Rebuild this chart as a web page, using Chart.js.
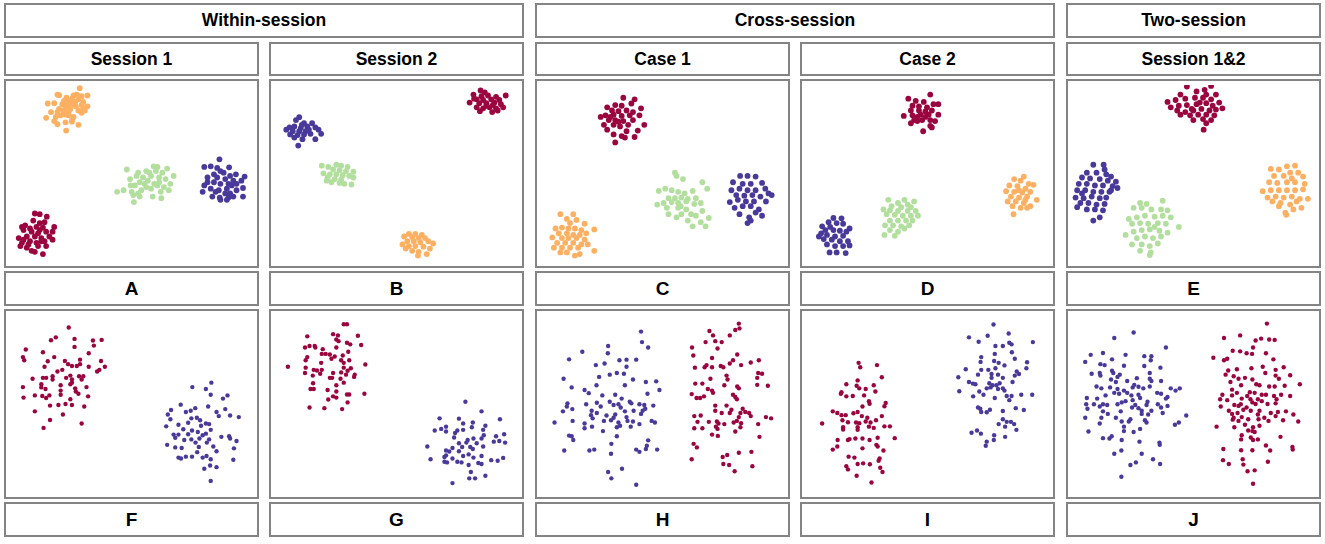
<!DOCTYPE html>
<html>
<head>
<meta charset="utf-8">
<script src="https://cdn.jsdelivr.net/npm/chart.js@4.4.0/dist/chart.umd.min.js"></script>
<style>
    body { margin: 0; background: #fff; width: 1325px; height: 544px; position: relative; overflow: hidden;
           font-family: "Liberation Sans", Arial, sans-serif; }
    .box { position: absolute; box-sizing: border-box; border: 2px solid #848484; background: #fff;
           display: flex; align-items: center; justify-content: center;
           font-weight: bold; font-size: 17.5px; color: #000; }
    .box canvas { position: absolute; left: 0; top: 0; }
</style>
</head>
<body>
<script>
// Titles
const groupTitles = ['Within-session', 'Cross-session', 'Two-session'];
const panelTitles = ['Session 1', 'Session 2', 'Case 1', 'Case 2', 'Session 1&2'];
const panelLetters = ['A', 'B', 'C', 'D', 'E', 'F', 'G', 'H', 'I', 'J'];

// Point clouds (x, y pairs, y grows downwards)
const aOrange = [234,25, 165,45, 170,47, 215,48, 225,45, 240,50, 258,48, 193,55, 210,58, 230,60, 185,65, 200,68, 220,68, 245,68, 135,73, 155,72, 180,75, 195,78, 210,75, 240,78, 258,82, 190,85, 170,90, 205,90, 230,95, 250,95, 145,100, 165,100, 185,102, 200,100, 240,102, 130,118, 160,115, 175,110, 190,108, 215,115, 155,128, 165,138, 190,132, 210,130, 230,140, 192,158, 210,125, 185,95, 222,82, 245,88, 200,110];
const aGreen = [463,270, 475,272, 505,277, 440,285, 470,285, 490,290, 525,300, 415,290, 380,280, 410,300, 430,305, 455,300, 480,305, 500,310, 390,310, 420,320, 445,315, 465,325, 515,325, 405,330, 440,335, 475,330, 495,335, 370,345, 350,350, 395,350, 425,345, 455,340, 485,350, 510,345, 400,360, 420,365, 460,365, 487,370, 402,382, 415,355, 435,325, 450,290, 480,320, 392,330];
const aPurple = [667,248, 640,270, 660,275, 697,273, 620,272, 670,285, 650,295, 680,290, 700,300, 718,295, 745,302, 630,305, 660,305, 685,310, 710,315, 735,315, 620,330, 650,320, 670,325, 695,325, 720,325, 640,340, 665,345, 690,340, 740,338, 615,350, 655,350, 700,355, 720,345, 645,365, 668,368, 695,368, 710,365, 740,365, 690,375, 670,375, 685,355, 705,330, 630,320];
const aRed = [95,418, 110,420, 132,428, 65,455, 90,440, 110,448, 125,445, 55,460, 80,465, 100,460, 120,462, 155,460, 60,470, 85,475, 105,480, 130,475, 150,475, 45,495, 70,490, 95,490, 115,495, 140,490, 55,510, 80,505, 100,510, 125,505, 150,500, 50,520, 70,525, 105,520, 130,520, 85,535, 95,538, 120,545, 60,500, 110,470, 75,515, 115,505];

const bRed = [652,32, 665,38, 630,45, 655,50, 675,48, 700,52, 730,48, 640,60, 660,62, 685,60, 710,62, 618,70, 648,72, 670,72, 695,70, 715,75, 640,85, 660,88, 680,85, 700,88, 722,85, 650,97, 688,100, 705,95, 670,80, 690,78, 632,58];
const bPurple = [90,116, 80,125, 105,135, 130,135, 60,148, 75,145, 95,150, 115,145, 140,148, 50,155, 70,160, 90,160, 110,160, 150,155, 62,170, 85,172, 105,170, 125,168, 158,168, 75,180, 100,185, 140,185, 87,205, 120,155, 98,140];
const bGreen = [160,268, 205,265, 220,268, 180,272, 240,272, 195,280, 215,282, 235,285, 258,287, 165,292, 185,295, 205,295, 225,298, 245,300, 178,305, 200,310, 220,312, 258,305, 190,320, 215,322, 230,325, 252,327, 175,315];
const bOrange = [430,482, 450,482, 470,485, 415,490, 440,492, 460,495, 480,495, 410,515, 425,505, 445,505, 465,508, 490,505, 505,512, 430,520, 450,520, 475,522, 440,535, 460,538, 485,545, 458,550, 420,528, 495,528];

const cRed = [270,55, 305,60, 295,73, 245,78, 265,80, 220,85, 325,88, 235,95, 255,97, 280,95, 300,100, 200,115, 215,110, 240,108, 265,112, 290,110, 320,110, 225,125, 245,125, 270,128, 300,125, 210,140, 240,140, 260,145, 285,140, 335,140, 220,155, 280,160, 315,158, 240,170, 265,175, 275,180, 305,178, 245,195, 255,130, 230,115];
const cGreen = [430,290, 435,300, 455,310, 515,320, 400,340, 420,345, 380,347, 440,350, 460,355, 485,347, 530,340, 410,370, 430,370, 450,368, 470,372, 495,370, 375,390, 395,385, 420,382, 440,385, 465,380, 490,388, 510,385, 405,400, 440,400, 465,405, 515,410, 410,420, 450,420, 480,420, 495,425, 535,432, 435,430, 470,440, 510,445, 485,458, 525,458, 448,395];
const cPurple = [632,300, 655,300, 680,302, 610,320, 640,325, 665,325, 700,322, 605,345, 630,340, 655,345, 680,345, 710,340, 620,360, 645,362, 670,360, 695,365, 720,355, 730,360, 600,382, 625,375, 650,380, 675,380, 712,380, 615,400, 640,395, 665,395, 690,405, 630,420, 680,415, 700,425, 660,430, 665,440, 655,448];
const cOrange = [75,420, 115,420, 95,435, 125,438, 105,448, 150,450, 60,465, 80,462, 100,465, 120,465, 140,470, 180,468, 70,480, 95,480, 115,485, 135,485, 155,480, 50,493, 80,495, 100,495, 125,495, 150,500, 65,510, 90,510, 115,510, 140,515, 160,515, 55,525, 80,525, 105,525, 130,525, 180,535, 95,540, 120,550, 135,545, 75,540];

const dRed = [400,45, 332,58, 355,65, 380,68, 410,75, 425,75, 345,80, 365,82, 390,85, 340,95, 365,95, 385,98, 405,95, 318,112, 345,110, 370,108, 395,108, 425,108, 350,125, 375,125, 400,125, 415,128, 340,135, 360,128, 400,143, 405,148, 378,160, 385,115, 360,115];
const dGreen = [270,375, 320,375, 300,385, 330,390, 350,380, 280,395, 310,398, 340,398, 255,405, 275,408, 300,410, 330,410, 355,410, 265,420, 290,422, 315,425, 340,425, 362,425, 275,440, 300,440, 325,440, 345,440, 260,455, 285,455, 310,458, 335,455, 275,470, 300,475, 258,485, 290,488, 320,465];
const dPurple = [100,432, 125,433, 85,445, 110,448, 130,450, 65,458, 90,460, 150,465, 75,470, 100,470, 120,472, 140,475, 55,490, 80,485, 105,490, 130,488, 70,498, 95,500, 120,505, 145,505, 80,515, 105,520, 130,520, 150,518, 88,540, 110,540, 138,542, 62,480];
const dOrange = [690,302, 660,310, 680,315, 705,325, 720,328, 645,330, 670,332, 695,340, 635,348, 660,350, 685,352, 710,350, 650,365, 675,368, 700,365, 730,375, 640,380, 665,380, 690,385, 710,395, 655,395, 680,400, 700,400, 658,420, 675,345, 695,375];

const eRed = [380,20, 455,18, 410,35, 435,30, 360,45, 440,45, 470,45, 320,68, 345,62, 375,58, 405,55, 430,55, 455,60, 480,70, 330,85, 355,80, 380,78, 410,75, 440,72, 460,80, 490,88, 350,95, 375,100, 400,95, 425,90, 450,95, 470,92, 360,108, 390,110, 415,108, 440,108, 465,110, 400,125, 430,122, 455,125, 440,135, 432,155, 395,90, 420,70];
const ePurple = [90,265, 122,265, 125,280, 70,290, 100,290, 130,295, 145,302, 55,305, 80,308, 110,310, 135,315, 160,318, 45,325, 70,325, 95,330, 120,330, 150,332, 165,338, 40,345, 65,345, 90,350, 115,350, 140,350, 35,368, 60,370, 85,365, 110,370, 130,368, 50,385, 75,385, 100,390, 125,388, 40,398, 70,405, 95,405, 120,408, 90,440, 110,430, 145,345, 55,355];
const eGreen = [235,385, 255,388, 305,378, 215,400, 240,400, 270,405, 300,405, 320,408, 200,435, 225,430, 250,425, 280,428, 305,425, 330,430, 210,450, 235,448, 260,450, 290,448, 315,450, 355,460, 190,485, 215,475, 240,470, 265,468, 295,472, 320,478, 225,495, 250,490, 275,495, 300,490, 210,515, 240,515, 265,520, 290,512, 235,535, 268,540, 265,548, 280,460];
const eOrange = [690,270, 715,268, 640,278, 665,280, 700,290, 725,290, 650,300, 680,300, 705,308, 740,302, 635,320, 660,322, 690,320, 715,320, 745,325, 615,348, 640,345, 665,345, 690,345, 715,345, 740,342, 630,368, 655,365, 680,368, 705,365, 730,372, 755,372, 645,380, 670,385, 700,390, 735,400, 665,395, 710,405, 688,422, 685,415, 720,380];

const fRed = [200,57, 160,88, 145,97, 218,93, 275,98, 302,96, 278,114, 218,118, 67,126, 120,135, 262,138, 58,150, 155,150, 62,160, 135,163, 188,162, 235,158, 300,162, 198,172, 210,178, 225,178, 125,180, 262,180, 312,180, 295,190, 180,190, 165,195, 288,195, 205,208, 232,210, 245,210, 120,215, 88,218, 130,215, 150,220, 210,220, 240,220, 115,235, 175,238, 205,235, 210,230, 58,244, 115,245, 220,248, 255,244, 128,250, 175,255, 222,258, 230,265, 95,270, 118,272, 140,270, 175,268, 260,273, 60,277, 130,278, 205,282, 190,297, 210,300, 142,302, 168,300, 248,305, 95,320, 182,330, 142,347, 240,358, 122,372, 150,210, 192,215, 235,172];
const fPurple = [583,244, 642,230, 625,250, 640,268, 692,270, 678,280, 547,299, 632,305, 592,310, 517,316, 563,322, 578,318, 685,313, 658,322, 507,330, 597,340, 607,348, 665,335, 700,333, 727,338, 580,342, 515,345, 570,356, 625,358, 635,360, 540,362, 502,367, 610,365, 640,378, 555,376, 582,380, 600,385, 625,390, 525,393, 540,393, 570,392, 615,395, 530,403, 558,410, 580,408, 605,405, 635,408, 673,400, 697,398, 700,405, 720,413, 593,418, 628,418, 505,425, 530,433, 550,435, 603,432, 648,430, 712,436, 658,445, 598,448, 540,465, 548,468, 563,462, 582,462, 615,465, 627,460, 640,470, 710,472, 638,490, 658,495, 620,500, 640,538];

const gRed = [228,47, 238,47, 195,78, 210,82, 272,83, 115,85, 205,95, 212,100, 238,105, 248,110, 282,112, 122,115, 138,115, 108,120, 140,120, 205,120, 163,125, 242,133, 160,140, 172,140, 185,142, 200,148, 225,145, 115,150, 190,155, 110,160, 220,160, 245,160, 158,168, 228,168, 295,173, 55,180, 110,183, 228,183, 250,185, 135,190, 145,192, 160,190, 240,193, 108,200, 155,202, 195,200, 220,198, 235,205, 262,205, 132,208, 260,212, 185,215, 192,215, 218,218, 228,230, 133,232, 205,238, 125,250, 135,250, 178,253, 205,258, 238,267, 245,267, 292,265, 195,273, 205,277, 180,283, 240,292, 122,308, 168,310, 223,313];
const gPurple = [605,290, 655,320, 525,342, 585,343, 712,345, 598,358, 628,355, 667,365, 545,368, 530,375, 625,370, 580,380, 598,378, 545,383, 510,380, 660,378, 573,388, 662,395, 700,398, 725,392, 570,402, 612,410, 630,405, 655,405, 693,415, 710,413, 728,418, 608,418, 585,420, 640,420, 487,430, 565,435, 595,432, 620,432, 660,430, 628,438, 545,443, 555,446, 585,445, 615,455, 598,460, 545,458, 540,463, 497,470, 565,468, 630,465, 655,460, 685,473, 705,475, 722,466, 540,478, 548,480, 580,478, 593,480, 645,482, 655,485, 615,488, 622,510, 667,522, 617,530, 635,530, 565,545];

const hPurple = [325,70, 328,103, 347,120, 223,115, 143,133, 222,138, 102,157, 258,160, 280,158, 310,158, 185,175, 212,170, 280,180, 228,205, 250,200, 272,202, 195,212, 85,218, 300,220, 340,228, 372,226, 110,245, 187,238, 275,238, 150,253, 163,263, 382,253, 205,270, 245,268, 265,280, 345,265, 97,295, 155,298, 188,293, 228,290, 255,298, 290,290, 295,295, 320,298, 335,300, 83,320, 95,305, 112,313, 200,305, 240,300, 262,308, 363,302, 172,318, 188,325, 218,333, 245,330, 275,320, 302,318, 330,318, 338,312, 325,328, 170,332, 240,340, 280,338, 113,350, 175,342, 232,348, 57,355, 150,358, 210,350, 255,355, 283,350, 300,352, 358,350, 368,355, 150,373, 173,368, 250,370, 260,365, 293,368, 320,360, 102,396, 110,398, 115,410, 207,382, 250,398, 347,411, 233,422, 343,428, 87,443, 165,443, 180,440, 232,453, 310,440, 320,447, 375,440, 340,438, 223,510, 266,500, 233,530, 310,550];
const hRed = [628,45, 630,60, 617,65, 537,68, 600,82, 548,82, 525,103, 555,100, 575,103, 562,123, 483,120, 623,142, 487,145, 545,153, 610,160, 528,175, 522,182, 572,178, 580,182, 545,182, 492,183, 600,170, 635,175, 665,167, 690,160, 688,200, 700,202, 685,215, 590,208, 593,220, 540,218, 493,233, 515,233, 583,238, 718,240, 685,237, 623,242, 628,248, 532,250, 545,255, 548,262, 610,268, 617,275, 482,266, 520,273, 497,278, 508,278, 622,282, 555,302, 590,302, 605,315, 640,312, 648,322, 555,318, 575,325, 600,325, 633,325, 660,325, 665,335, 712,338, 728,342, 490,335, 510,333, 628,338, 500,353, 535,353, 560,352, 565,358, 583,360, 612,355, 622,350, 635,357, 688,360, 490,373, 515,373, 557,368, 562,375, 633,370, 617,383, 545,393, 563,397, 692,400, 488,422, 498,433, 482,470, 667,447, 628,450, 592,457, 578,463, 580,485, 598,488, 670,492, 615,508];

const iRed = [178,168, 183,182, 235,175, 250,213, 175,223, 140,235, 172,240, 180,248, 225,238, 200,250, 230,258, 125,260, 123,265, 140,273, 160,272, 195,270, 210,288, 212,296, 262,294, 258,304, 190,305, 98,320, 112,325, 125,332, 138,332, 162,326, 175,322, 250,335, 188,335, 205,340, 232,348, 128,348, 145,354, 170,355, 180,357, 200,352, 215,355, 65,358, 130,370, 175,370, 210,368, 225,372, 258,367, 275,367, 130,377, 175,378, 290,404, 113,410, 145,410, 150,407, 168,405, 190,405, 212,410, 237,403, 112,430, 98,440, 190,436, 233,425, 237,430, 255,443, 147,462, 165,465, 243,468, 240,475, 175,485, 192,483, 213,486, 140,492, 145,502, 245,497, 252,510, 172,522, 218,543];
const iPurple = [596,48, 643,76, 520,88, 578,83, 550,102, 718,103, 645,105, 652,110, 602,115, 625,115, 653,135, 600,140, 558,150, 662,155, 556,165, 598,162, 612,168, 700,166, 630,176, 698,185, 510,188, 558,190, 580,190, 602,185, 548,205, 590,203, 610,205, 668,195, 675,203, 662,208, 487,213, 590,215, 625,215, 655,228, 520,228, 532,233, 540,235, 583,232, 593,238, 605,238, 615,232, 587,245, 625,248, 575,248, 552,258, 565,268, 610,250, 490,257, 630,255, 637,272, 682,268, 716,268, 533,273, 600,278, 652,272, 645,285, 548,308, 555,312, 558,322, 575,323, 585,315, 665,310, 690,316, 625,319, 625,345, 612,360, 637,353, 650,353, 660,360, 632,368, 667,378, 528,387, 545,380, 557,390, 598,395, 597,410, 632,400, 575,415, 572,428];

const jPurple = [215,73, 155,90, 315,120, 82,143, 120,137, 190,143, 248,147, 270,147, 148,157, 65,165, 112,172, 125,175, 268,160, 185,177, 248,178, 298,183, 85,202, 110,200, 112,208, 148,193, 152,200, 172,205, 165,212, 265,200, 265,218, 145,220, 160,228, 225,216, 270,225, 300,225, 195,225, 217,237, 230,243, 100,242, 115,248, 212,245, 142,245, 165,250, 245,248, 265,242, 330,248, 345,255, 358,248, 185,255, 155,262, 170,265, 195,262, 288,262, 300,265, 208,270, 230,268, 128,270, 70,278, 102,280, 235,278, 258,290, 212,285, 320,275, 315,280, 190,288, 178,292, 92,298, 68,298, 165,298, 220,300, 255,300, 290,298, 120,298, 133,300, 72,312, 110,305, 210,308, 230,310, 240,318, 270,318, 300,308, 320,303, 120,320, 135,328, 175,320, 240,328, 260,330, 305,325, 65,340, 115,340, 160,340, 205,345, 378,333, 110,358, 178,352, 200,352, 250,348, 255,355, 355,355, 343,362, 185,368, 235,375, 75,383, 185,382, 215,385, 140,405, 120,404, 147,398, 178,410, 233,415, 295,418, 296,425, 177,443, 155,453, 240,453, 275,470, 222,480, 205,488, 297,485, 177,525];
const jRed = [628,45, 495,90, 545,82, 610,92, 593,98, 635,95, 652,96, 585,120, 522,130, 545,132, 565,138, 582,140, 625,138, 462,152, 495,160, 505,155, 648,157, 580,185, 615,180, 680,182, 508,192, 535,188, 655,190, 500,205, 525,210, 623,200, 655,208, 700,207, 540,218, 515,228, 548,238, 583,220, 560,215, 665,218, 605,238, 595,235, 635,242, 652,242, 683,240, 730,235, 520,252, 490,268, 535,262, 575,260, 590,262, 520,270, 567,272, 612,268, 625,268, 650,272, 672,268, 483,282, 505,285, 550,280, 577,282, 600,282, 612,288, 658,282, 700,272, 527,300, 547,298, 583,292, 593,297, 540,303, 565,308, 630,297, 655,295, 485,305, 510,318, 520,328, 537,325, 555,315, 578,318, 605,318, 640,325, 662,322, 687,320, 710,330, 525,340, 550,338, 600,330, 620,340, 655,335, 678,348, 522,346, 540,350, 570,345, 602,345, 633,350, 725,352, 472,368, 527,370, 560,362, 585,370, 605,365, 583,382, 570,380, 550,395, 590,385, 548,408, 578,402, 585,410, 600,408, 670,400, 625,427, 707,432, 708,440, 493,438, 548,442, 583,442, 638,443, 492,473, 553,470, 631,478, 510,485, 555,487, 568,508, 590,505, 585,547];

const RED = '#9b053f', ORANGE = '#fdb062', GREEN = '#b3df9e', PURPLE = '#483a9a';

const panels = [
    [[aRed, RED], [aOrange, ORANGE], [aGreen, GREEN], [aPurple, PURPLE]],
    [[bRed, RED], [bOrange, ORANGE], [bGreen, GREEN], [bPurple, PURPLE]],
    [[cRed, RED], [cOrange, ORANGE], [cGreen, GREEN], [cPurple, PURPLE]],
    [[dRed, RED], [dOrange, ORANGE], [dGreen, GREEN], [dPurple, PURPLE]],
    [[eRed, RED], [eOrange, ORANGE], [eGreen, GREEN], [ePurple, PURPLE]],
    [[fRed, RED], [fPurple, PURPLE]],
    [[gRed, RED], [gPurple, PURPLE]],
    [[hPurple, PURPLE], [hRed, RED]],
    [[iRed, RED], [iPurple, PURPLE]],
    [[jPurple, PURPLE], [jRed, RED]]
];

// Layout (page pixels)
const colX = [4, 269, 535, 800, 1066];
const colW = 255;
const groupBoxes = [[4, 520], [535, 520], [1066, 255]];
const rowY = { group: [3, 35], title: [42, 34], top: [79, 189], lab1: [271, 35], bottom: [309, 190], lab2: [502, 35] };
// origin of the coordinate frame the points were read in, per panel
const frameOrigin = [[0, 76], [266, 76], [532, 76], [797, 76], [1060, 76],
                     [0, 305], [266, 305], [532, 305], [797, 305], [1060, 305]];
const BORDER = 2;
const SCALE = 3;

function makeBox(x, y, w, h, text) {
    const d = document.createElement('div');
    d.className = 'box';
    d.style.left = x + 'px';
    d.style.top = y + 'px';
    d.style.width = w + 'px';
    d.style.height = h + 'px';
    if (text) d.textContent = text;
    document.body.appendChild(d);
    return d;
}

function toPoints(flat) {
    const out = [];
    for (let i = 0; i < flat.length; i += 2) out.push({ x: flat[i], y: flat[i + 1] });
    return out;
}

groupTitles.forEach((t, i) => makeBox(groupBoxes[i][0], rowY.group[0], groupBoxes[i][1], rowY.group[1], t));
panelTitles.forEach((t, i) => makeBox(colX[i], rowY.title[0], colW, rowY.title[1], t));
panelLetters.forEach((t, i) => {
    const r = i < 5 ? rowY.lab1 : rowY.lab2;
    const b = makeBox(colX[i % 5], r[0], colW, r[1], t);
    b.style.fontSize = '19px';
});

panels.forEach((clusters, i) => {
    const r = i < 5 ? rowY.top : rowY.bottom;
    const x = colX[i % 5], y = r[0];
    const box = makeBox(x, y, colW, r[1]);
    const w = colW - 2 * BORDER, h = r[1] - 2 * BORDER;
    const canvas = document.createElement('canvas');
    canvas.width = w;
    canvas.height = h;
    canvas.style.width = w + 'px';
    canvas.style.height = h + 'px';
    box.appendChild(canvas);

    const [ox, oy] = frameOrigin[i];
    const left = x + BORDER, top = y + BORDER;

    new Chart(canvas.getContext('2d'), {
        type: 'scatter',
        data: {
            datasets: clusters.map(([pts, color]) => ({
                data: toPoints(pts),
                backgroundColor: color,
                borderColor: color,
                borderWidth: 0,
                pointRadius: i < 5 ? 2.9 : 2.2
            }))
        },
        options: {
            responsive: false,
            animation: false,
            events: [],
            layout: { padding: 0 },
            plugins: { legend: { display: false }, tooltip: { enabled: false } },
            scales: {
                x: { type: 'linear', display: false, min: (left - ox) * SCALE, max: (left + w - ox) * SCALE },
                y: { type: 'linear', display: false, reverse: true, min: (top - oy) * SCALE, max: (top + h - oy) * SCALE }
            }
        }
    });
});
</script>
</body>
</html>
